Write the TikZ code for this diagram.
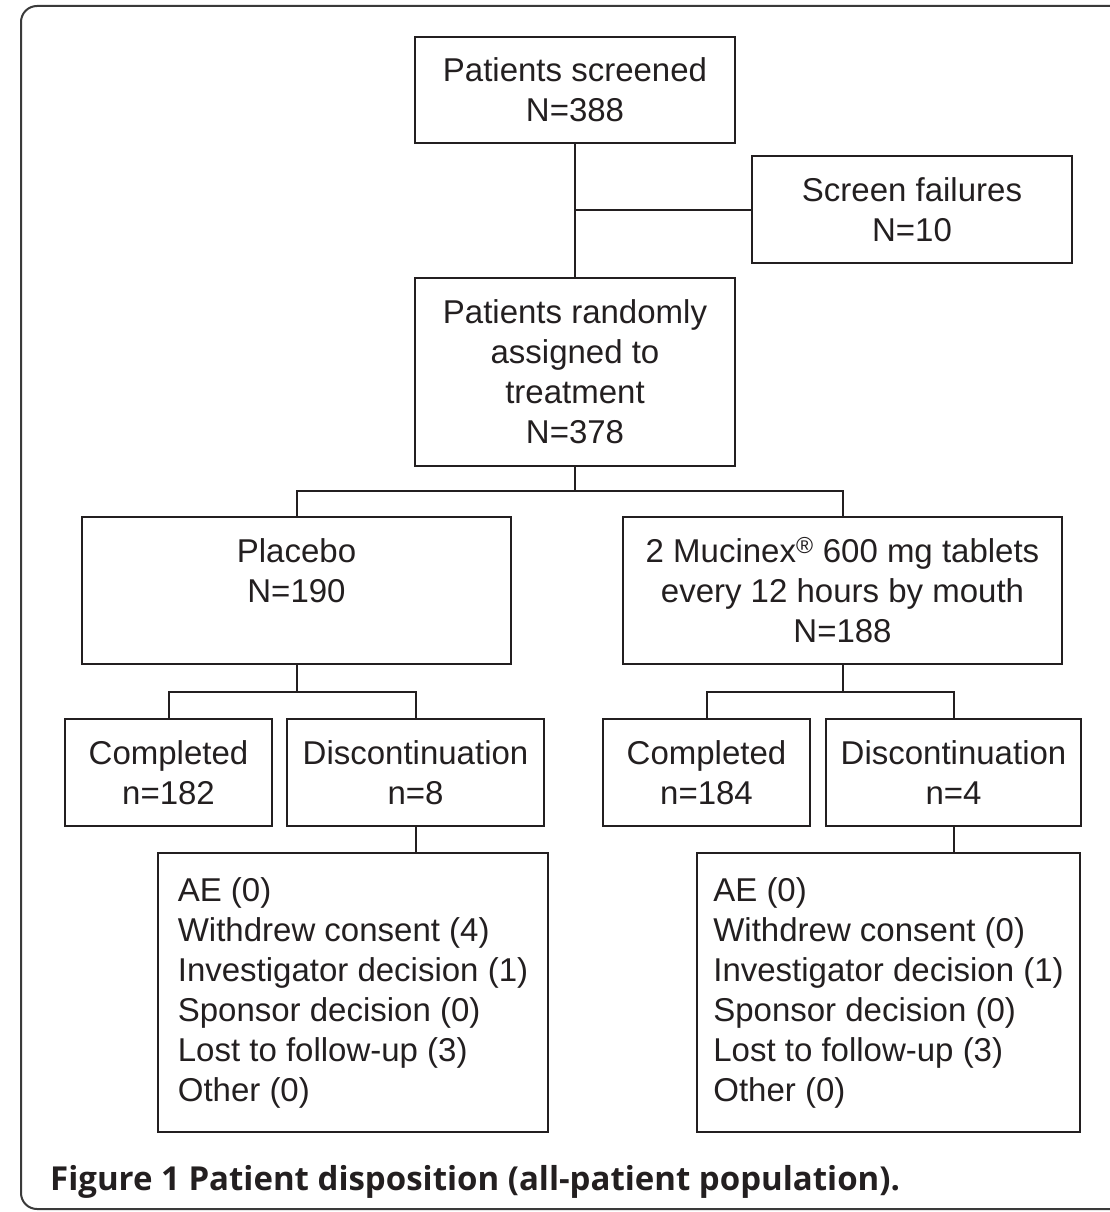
\documentclass[tikz,border=0pt]{standalone}
\usepackage{fontspec}
\setmainfont{Liberation Sans}
\newfontfamily\capfont{Open Sans}
\definecolor{ink}{HTML}{231F20}
\definecolor{framegray}{HTML}{3A3A3A}
\begin{document}
\begin{tikzpicture}[x=1pt,y=-1pt,
  box/.style={draw=ink, line width=2pt, text=ink, align=center, inner sep=0pt,
    font=\fontsize{33}{40}\selectfont},
  listbox/.style={box, align=left},
  conn/.style={draw=ink, line width=2pt}]
\useasboundingbox (0,0) rectangle (1110,1212);

% outer rounded frame (its right side runs past the page edge)
\draw[framegray, line width=2pt, rounded corners=16pt] (21,6) rectangle (1150,1209);

% boxes
\node[box, minimum width=320pt, minimum height=106pt] (screened) at (575,90)
  {Patients screened\\N=388};
\node[box, minimum width=320pt, minimum height=107pt] (fail) at (912,209.5)
  {Screen failures\\N=10};
\node[box, minimum width=320pt, minimum height=188pt] (rand) at (575,372)
  {Patients randomly\\assigned to\\treatment\\N=378};
\node[box, minimum width=429pt, minimum height=147pt] (placebo) at (296.5,590.5)
  {Placebo\\N=190\\~};
\node[box, minimum width=439pt, minimum height=147pt] (mucinex) at (842.5,590.5)
  {2 Mucinex\textsuperscript{®} 600 mg tablets\\every 12 hours by mouth\\N=188};
\node[box, minimum width=207pt, minimum height=107pt] (compL) at (168.5,772.5)
  {Completed\\n=182};
\node[box, minimum width=257pt, minimum height=107pt] (discL) at (415.5,772.5)
  {Discontinuation\\n=8};
\node[box, minimum width=207pt, minimum height=107pt] (compR) at (706.5,772.5)
  {Completed\\n=184};
\node[box, minimum width=255pt, minimum height=107pt] (discR) at (953.5,772.5)
  {Discontinuation\\n=4};
\node[listbox, minimum width=390pt, minimum height=279pt] (whyL) at (353,992.5)
  {AE (0)\\Withdrew consent (4)\\Investigator decision (1)\\Sponsor decision (0)\\Lost to follow-up (3)\\Other (0)};
\node[listbox, minimum width=383pt, minimum height=279pt] (whyR) at (888.5,992.5)
  {AE (0)\\Withdrew consent (0)\\Investigator decision (1)\\Sponsor decision (0)\\Lost to follow-up (3)\\Other (0)};

% connectors
\draw[conn] (screened.south) -- (rand.north);
\coordinate (split) at (screened.south |- fail.west);
\draw[conn] (split) -- (fail.west);
\draw[conn] (rand.south) -- ++(0,24) -| (placebo.north);
\draw[conn] (rand.south) -- ++(0,24) -| (mucinex.north);
\draw[conn] (placebo.south) -- ++(0,27) -| (compL.north);
\draw[conn] (placebo.south) -- ++(0,27) -| (discL.north);
\draw[conn] (mucinex.south) -- ++(0,27) -| (compR.north);
\draw[conn] (mucinex.south) -- ++(0,27) -| (discR.north);
\draw[conn] (discL.south) -- (discL.south |- whyL.north);
\draw[conn] (discR.south) -- (discR.south |- whyR.north);

% caption
\node[anchor=base west, inner sep=0pt, text=ink, font=\capfont\bfseries\fontsize{33}{38}\selectfont]
  (caption) at (50,1190) {Figure 1 Patient disposition (all-patient population).};
\end{tikzpicture}
\end{document}
